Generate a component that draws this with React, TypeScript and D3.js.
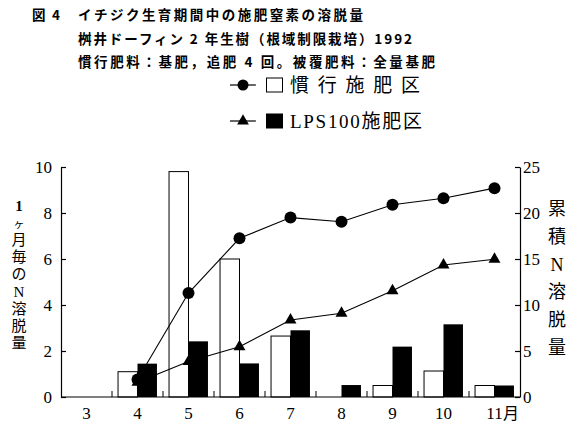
import { useEffect, useRef } from 'react';
import * as d3 from 'd3';

// months on the x axis (3月 .. 11月)
const months = ['3', '4', '5', '6', '7', '8', '9', '10', '11'];
// monthly N leaching (left axis)
const convMonthly = [0, 1.1, 9.8, 6.0, 2.65, 0, 0.5, 1.13, 0.5];
const lpsMonthly = [0, 1.45, 2.42, 1.46, 2.9, 0.52, 2.19, 3.16, 0.5];
// cumulative N leaching (right axis)
const convCumulative = [null, 1.9, 11.3, 17.25, 19.5, 19.05, 20.9, 21.6, 22.7];
const lpsCumulative = [null, 1.6, 3.85, 5.47, 8.37, 9.1, 11.55, 14.35, 14.97];

const leftTicks = [0, 2, 4, 6, 8, 10];
const rightTicks = [0, 5, 10, 15, 20, 25];

const titleLines = [
  'イチジク生育期間中の施肥窒素の溶脱量',
  '桝井ドーフィン 2 年生樹（根域制限栽培）1992',
  '慣行肥料：基肥，追肥 4 回。被覆肥料：全量基肥',
];
const legendLabels = ['慣 行 施 肥 区', 'LPS100施肥区'];
const leftLabel = ['1', 'ヶ', '月', '毎', 'の', 'N', '溶', '脱', '量'];
const rightLabel = ['累', '積', 'N', '溶', '脱', '量'];

const SERIF = '"Liberation Serif", "DejaVu Serif", "Noto Sans CJK JP", serif';
const GOTHIC = '"Noto Sans CJK JP", sans-serif';

const App = () => {
  const ref = useRef(null);

  useEffect(() => {
    const svg = d3.select(ref.current);
    svg.selectAll('*').remove();

    const width = 584;
    const height = 424;
    svg.attr('width', width).attr('height', height);

    const left = 61, right = 520, top = 167, bottom = 397;

    const x = d3.scaleBand().domain(months).range([left, right]).paddingInner(0).paddingOuter(0);
    const sub = d3.scaleBand().domain(['conv', 'lps']).range([0, x.bandwidth()]).paddingInner(0).paddingOuter(0.31);
    const yL = d3.scaleLinear().domain([0, 10]).range([bottom, top]);
    const yR = d3.scaleLinear().domain([0, 25]).range([bottom, top]);

    // title
    const title = svg.append('g').style('font-family', GOTHIC).style('font-weight', 700).style('font-size', '13.5px');
    title.append('text').attr('x', 32).attr('y', 20).text('図');
    title.append('text').attr('x', 52).attr('y', 20).text('4');
    const titleWidths = [285, 334, 357];
    titleLines.forEach((t, i) => {
      title.append('text')
        .attr('x', 78)
        .attr('y', 20 + i * 23.5)
        .attr('textLength', titleWidths[i])
        .attr('lengthAdjust', 'spacing')
        .text(t);
    });

    // legend
    const legend = svg.append('g');
    const legendY = [85, 121];
    legendY.forEach((ly, i) => {
      legend.append('line').attr('x1', 230).attr('x2', 256).attr('y1', ly).attr('y2', ly)
        .attr('stroke', '#000').attr('stroke-width', 1.2);
      if (i === 0) {
        legend.append('circle').attr('cx', 243).attr('cy', ly).attr('r', 5.5).attr('fill', '#000');
      } else {
        legend.append('path')
          .attr('d', d3.symbol(d3.symbolTriangle, 60)())
          .attr('transform', `translate(243,${ly})`)
          .attr('fill', '#000');
      }
      legend.append('rect').attr('x', 266.5).attr('y', ly - 7).attr('width', 16).attr('height', 14)
        .attr('fill', i === 0 ? '#fff' : '#000').attr('stroke', '#000').attr('stroke-width', 1);
      legend.append('text')
        .attr('x', 290).attr('y', ly + 7)
        .attr('textLength', i === 0 ? 130 : 132)
        .attr('lengthAdjust', 'spacing')
        .style('font-family', SERIF)
        .style('font-size', '19px')
        .text(legendLabels[i]);
    });

    // white bars (conventional), drawn first
    const plot = svg.append('g');
    plot.selectAll('rect.conv')
      .data(months.map((m, i) => ({ m, v: convMonthly[i] })).filter(d => d.v > 0))
      .join('rect')
      .attr('class', 'conv')
      .attr('x', d => x(d.m) + sub('conv'))
      .attr('width', sub.bandwidth())
      .attr('y', d => yL(d.v))
      .attr('height', d => yL(0) - yL(d.v))
      .attr('fill', '#fff')
      .attr('stroke', '#000')
      .attr('stroke-width', 1);

    // cumulative lines
    const cx = m => x(m) + x.bandwidth() / 2;
    const line = d3.line()
      .defined(d => d.v != null)
      .x(d => cx(d.m))
      .y(d => yR(d.v));

    const convPts = months.map((m, i) => ({ m, v: convCumulative[i] }));
    const lpsPts = months.map((m, i) => ({ m, v: lpsCumulative[i] }));

    plot.append('path').datum(convPts).attr('d', line).attr('fill', 'none').attr('stroke', '#000').attr('stroke-width', 1.1);
    plot.append('path').datum(lpsPts).attr('d', line).attr('fill', 'none').attr('stroke', '#000').attr('stroke-width', 1.1);

    plot.selectAll('circle.cum')
      .data(convPts.filter(d => d.v != null))
      .join('circle')
      .attr('class', 'cum')
      .attr('cx', d => cx(d.m))
      .attr('cy', d => yR(d.v))
      .attr('r', 6)
      .attr('fill', '#000');

    plot.selectAll('path.tri')
      .data(lpsPts.filter(d => d.v != null))
      .join('path')
      .attr('class', 'tri')
      .attr('d', d3.symbol(d3.symbolTriangle, 62)())
      .attr('transform', d => `translate(${cx(d.m)},${yR(d.v)})`)
      .attr('fill', '#000');

    // black bars (LPS), on top
    plot.selectAll('rect.lps')
      .data(months.map((m, i) => ({ m, v: lpsMonthly[i] })).filter(d => d.v > 0))
      .join('rect')
      .attr('class', 'lps')
      .attr('x', d => x(d.m) + sub('lps'))
      .attr('width', sub.bandwidth())
      .attr('y', d => yL(d.v))
      .attr('height', d => yL(0) - yL(d.v))
      .attr('fill', '#000');

    // axes
    const axisStyle = g => {
      g.attr('font-family', SERIF);
      g.selectAll('path, line').attr('stroke', '#000').attr('stroke-width', 1.2);
      g.selectAll('text').style('font-family', SERIF).style('font-size', '17px').attr('fill', '#000');
    };

    svg.append('g')
      .attr('transform', `translate(${left},0)`)
      .call(d3.axisLeft(yL).tickValues(leftTicks).tickSizeInner(-5).tickSizeOuter(0).tickPadding(9))
      .call(axisStyle);

    svg.append('g')
      .attr('transform', `translate(${right},0)`)
      .call(d3.axisRight(yR).tickValues(rightTicks).tickSizeInner(-5).tickSizeOuter(0).tickPadding(3))
      .call(axisStyle);

    // bottom axis: line with ticks at month boundaries
    const xAxis = svg.append('g');
    xAxis.append('line').attr('x1', left).attr('x2', right).attr('y1', bottom).attr('y2', bottom)
      .attr('stroke', '#000').attr('stroke-width', 1.2);
    xAxis.selectAll('line.tick')
      .data(months.slice(1))
      .join('line')
      .attr('class', 'tick')
      .attr('x1', d => x(d)).attr('x2', d => x(d))
      .attr('y1', bottom).attr('y2', bottom - 6)
      .attr('stroke', '#000').attr('stroke-width', 1);
    xAxis.selectAll('text.mlabel')
      .data(months)
      .join('text')
      .attr('class', 'mlabel')
      .attr('x', d => cx(d))
      .attr('y', 419)
      .attr('text-anchor', 'middle')
      .style('font-family', SERIF)
      .style('font-size', '17px')
      .text(d => d);
    xAxis.append('text')
      .attr('x', cx(months[months.length - 1]) + 8.5)
      .attr('y', 419)
      .style('font-family', GOTHIC)
      .style('font-size', '16px')
      .text('月');

    // vertical axis titles
    svg.append('g').selectAll('text')
      .data(leftLabel)
      .join('text')
      .attr('x', 19)
      .attr('y', (d, i) => 211 + i * 17.1)
      .attr('text-anchor', 'middle')
      .style('font-family', SERIF)
      .style('font-size', d => (d === 'ヶ' ? '11px' : '15px'))
      .style('font-weight', d => (d === '1' ? 700 : 400))
      .text(d => d);

    svg.append('g').selectAll('text')
      .data(rightLabel)
      .join('text')
      .attr('x', 557)
      .attr('y', (d, i) => 215 + i * 27.8)
      .attr('text-anchor', 'middle')
      .style('font-family', SERIF)
      .style('font-size', '18px')
      .text(d => d);
  }, []);

  return (
    <svg ref={ref} width={584} height={424} style={{ position: 'absolute', left: 0, top: 0, background: '#fff' }} />
  );
};

export default App;
